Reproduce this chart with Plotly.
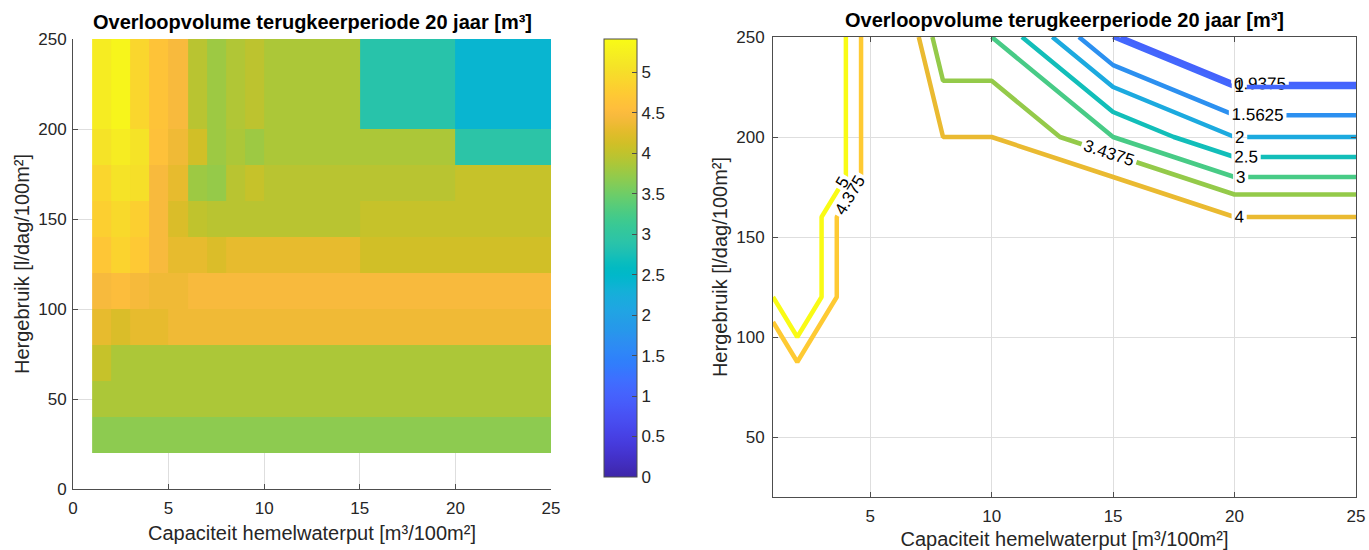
import numpy as np
import plotly.graph_objects as go

# Grid: tank capacity (x) and daily reuse (y)
capaciteit = [1, 2, 3, 4, 5, 6, 7, 8, 9, 10, 15, 20, 25]
hergebruik = [20, 40, 60, 80, 100, 120, 140, 160, 180, 200, 250]

# Overflow volume per grid point (rows: hergebruik, columns: capaciteit)
overloop = np.array([
    [3.68, 3.68, 3.68, 3.68, 3.68, 3.68, 3.68, 3.68, 3.68, 3.68, 3.68, 3.68, 3.68],
    [3.87, 3.87, 3.87, 3.87, 3.87, 3.87, 3.87, 3.87, 3.87, 3.87, 3.87, 3.87, 3.87],
    [4.04, 3.87, 3.87, 3.87, 3.87, 3.87, 3.87, 3.87, 3.87, 3.87, 3.87, 3.87, 3.87],
    [4.30, 4.19, 4.30, 4.30, 4.38, 4.38, 4.38, 4.38, 4.38, 4.38, 4.38, 4.38, 4.38],
    [4.46, 4.52, 4.44, 4.38, 4.38, 4.47, 4.47, 4.47, 4.47, 4.47, 4.47, 4.47, 4.47],
    [4.68, 4.86, 4.72, 4.47, 4.30, 4.30, 4.20, 4.30, 4.30, 4.30, 4.12, 4.12, 4.12],
    [4.81, 4.94, 4.81, 4.47, 4.19, 4.00, 3.95, 3.95, 3.95, 3.95, 4.04, 4.04, 4.04],
    [4.90, 5.07, 5.02, 4.47, 4.30, 3.78, 3.73, 3.95, 4.04, 3.95, 3.95, 4.04, 4.04],
    [5.07, 5.20, 5.07, 4.60, 4.38, 4.12, 3.78, 3.87, 3.78, 3.87, 3.87, 2.92, 2.92],
    [5.20, 5.33, 4.90, 4.64, 4.47, 3.95, 3.78, 3.90, 3.98, 3.87, 2.88, 2.40, 2.40],
    [5.30, 5.41, 5.20, 4.75, 4.30, 3.90, 3.80, 3.20, 3.10, 3.00, 1.20, 0.10, 0.00],
])

contour_levels = [0.9375, 1, 1.5625, 2, 2.5, 3, 3.4375, 4, 4.375, 5]

x_ticks = [0, 5, 10, 15, 20, 25]
y_ticks = [0, 50, 100, 150, 200, 250]
cbar_ticks = [0, 0.5, 1, 1.5, 2, 2.5, 3, 3.5, 4, 4.5, 5]

titel = "Overloopvolume terugkeerperiode 20 jaar [m³]"
x_label = "Capaciteit hemelwaterput [m³/100m²]"
y_label = "Hergebruik [l/dag/100m²]"

# parula colormap (64 entries)
PARULA = [
    (0.2422, 0.1504, 0.6603), (0.2504, 0.1650, 0.7076), (0.2578, 0.1818, 0.7511), (0.2647, 0.1978, 0.7952),
    (0.2706, 0.2147, 0.8364), (0.2751, 0.2342, 0.8710), (0.2783, 0.2559, 0.8991), (0.2803, 0.2782, 0.9221),
    (0.2813, 0.3006, 0.9414), (0.2810, 0.3228, 0.9579), (0.2795, 0.3447, 0.9717), (0.2760, 0.3667, 0.9829),
    (0.2699, 0.3892, 0.9906), (0.2602, 0.4123, 0.9952), (0.2440, 0.4358, 0.9988), (0.2206, 0.4603, 0.9973),
    (0.1963, 0.4847, 0.9892), (0.1834, 0.5074, 0.9798), (0.1786, 0.5289, 0.9682), (0.1764, 0.5499, 0.9520),
    (0.1687, 0.5703, 0.9359), (0.1540, 0.5902, 0.9218), (0.1460, 0.6091, 0.9079), (0.1380, 0.6276, 0.8973),
    (0.1248, 0.6459, 0.8883), (0.1113, 0.6635, 0.8763), (0.0952, 0.6798, 0.8598), (0.0689, 0.6948, 0.8394),
    (0.0297, 0.7082, 0.8163), (0.0036, 0.7203, 0.7917), (0.0067, 0.7312, 0.7660), (0.0433, 0.7411, 0.7394),
    (0.0964, 0.7500, 0.7120), (0.1408, 0.7584, 0.6842), (0.1717, 0.7670, 0.6554), (0.1938, 0.7758, 0.6251),
    (0.2161, 0.7843, 0.5923), (0.2470, 0.7918, 0.5567), (0.2906, 0.7973, 0.5188), (0.3406, 0.8008, 0.4789),
    (0.3909, 0.8029, 0.4354), (0.4456, 0.8024, 0.3909), (0.5044, 0.7993, 0.3480), (0.5616, 0.7942, 0.3045),
    (0.6174, 0.7876, 0.2612), (0.6720, 0.7793, 0.2227), (0.7242, 0.7698, 0.1910), (0.7738, 0.7598, 0.1646),
    (0.8203, 0.7498, 0.1535), (0.8634, 0.7406, 0.1596), (0.9035, 0.7330, 0.1774), (0.9393, 0.7288, 0.2100),
    (0.9728, 0.7298, 0.2394), (0.9956, 0.7434, 0.2371), (0.9970, 0.7659, 0.2199), (0.9952, 0.7893, 0.2028),
    (0.9892, 0.8136, 0.1885), (0.9786, 0.8386, 0.1766), (0.9676, 0.8639, 0.1643), (0.9610, 0.8890, 0.1537),
    (0.9597, 0.9135, 0.1423), (0.9628, 0.9373, 0.1265), (0.9691, 0.9606, 0.1064), (0.9769, 0.9839, 0.0805),
]


def rgb(c):
    return "rgb({:d},{:d},{:d})".format(*[int(round(v * 255)) for v in c])


def parula_at(t):
    t = min(max(t, 0.0), 1.0) * (len(PARULA) - 1)
    i = int(np.floor(t))
    j = min(i + 1, len(PARULA) - 1)
    f = t - i
    return rgb([a + (b - a) * f for a, b in zip(PARULA[i], PARULA[j])])


parula_scale = [[k / (len(PARULA) - 1), rgb(c)] for k, c in enumerate(PARULA)]

W, H = 1369, 550
FONT = "Liberation Sans, Arial, Helvetica, sans-serif"
AXIS_COLOR = "#4d4d4d"
GRID_COLOR = "#dedede"
TICK_SIZE = 17
LABEL_SIZE = 20
TITLE_SIZE = 20

fig = go.Figure()

# Left: cell plot, each cell coloured by its lower-left grid value
fig.add_trace(go.Heatmap(
    x=capaciteit, y=hergebruik, z=overloop[:-1, :-1],
    colorscale=parula_scale, zmin=overloop.min(), zmax=overloop.max(),
    xaxis="x", yaxis="y", hoverinfo="skip",
    colorbar=dict(
        x=604 / W, xanchor="left", xpad=0, y=(H - 477) / H, yanchor="bottom", ypad=0,
        len=(477 - 39) / H, lenmode="fraction", thickness=33,
        tickvals=cbar_ticks, ticks="inside", ticklen=5, tickcolor=AXIS_COLOR,
        outlinecolor=AXIS_COLOR, outlinewidth=1,
        tickfont=dict(family=FONT, size=TICK_SIZE, color="#262626"),
    ),
))

# Right: contour lines of the rounded volumes
afgerond = np.round(overloop)
zmin_c, zmax_c = afgerond.min(), afgerond.max()
for lvl in contour_levels:
    # integer levels coincide with grid values; nudge so those points count as inside
    v = lvl - 1e-9 if float(lvl).is_integer() else lvl
    kleur = parula_at((lvl - zmin_c) / (zmax_c - zmin_c))
    fig.add_trace(go.Contour(
        x=capaciteit, y=hergebruik, z=afgerond,
        autocontour=False,
        contours=dict(start=v, end=v, size=1, coloring="lines", showlabels=True,
                      labelfont=dict(family=FONT, size=17, color="black"),
                      labelformat=".5~g"),
        colorscale=[[0, kleur], [1, kleur]], showscale=False,
        line=dict(width=4.5, smoothing=0),
        xaxis="x2", yaxis="y2", hoverinfo="skip",
    ))

tickfont = dict(family=FONT, size=TICK_SIZE, color="#262626")
labelfont = dict(family=FONT, size=LABEL_SIZE, color="#262626")

common = dict(showgrid=True, gridcolor=GRID_COLOR, gridwidth=1, zeroline=False,
              showline=True, linecolor=AXIS_COLOR, linewidth=1, automargin=False,
              ticks="inside", ticklen=5, tickcolor=AXIS_COLOR, tickfont=tickfont)

fig.update_layout(
    width=W, height=H,
    margin=dict(l=0, r=0, t=0, b=0),
    paper_bgcolor="white", plot_bgcolor="white",
    showlegend=False,
    font=dict(family=FONT, color="#262626"),
    xaxis=dict(domain=[73 / W, 551 / W], range=[0, 25], tickvals=x_ticks,
               anchor="y", ticklabelstandoff=4,
               title=dict(text=x_label, font=labelfont, standoff=8), **common),
    yaxis=dict(domain=[(H - 489) / H, (H - 39) / H], range=[0, 250], tickvals=y_ticks,
               anchor="x", ticklabelstandoff=2,
               title=dict(text=y_label, font=labelfont, standoff=3), **common),
    xaxis2=dict(domain=[773 / W, 1356 / W], range=[1, 25], tickvals=x_ticks[1:],
                anchor="y2", mirror="ticks", ticklabelstandoff=4,
                title=dict(text=x_label, font=labelfont, standoff=8), **common),
    yaxis2=dict(domain=[(H - 497) / H, (H - 37) / H], range=[20, 250], tickvals=y_ticks[1:],
                anchor="x2", mirror="ticks", ticklabelstandoff=4,
                title=dict(text=y_label, font=labelfont, standoff=3), **common),
    annotations=[
        dict(text="<b>" + titel + "</b>", xref="paper", yref="paper",
             x=(73 + 551) / 2 / W, y=(H - 39) / H, xanchor="center", yanchor="bottom",
             yshift=4, showarrow=False, font=dict(family=FONT, size=TITLE_SIZE, color="black")),
        dict(text="<b>" + titel + "</b>", xref="paper", yref="paper",
             x=(773 + 1356) / 2 / W, y=(H - 37) / H, xanchor="center", yanchor="bottom",
             yshift=4, showarrow=False, font=dict(family=FONT, size=TITLE_SIZE, color="black")),
    ],
)

fig.write_html("out.html")
